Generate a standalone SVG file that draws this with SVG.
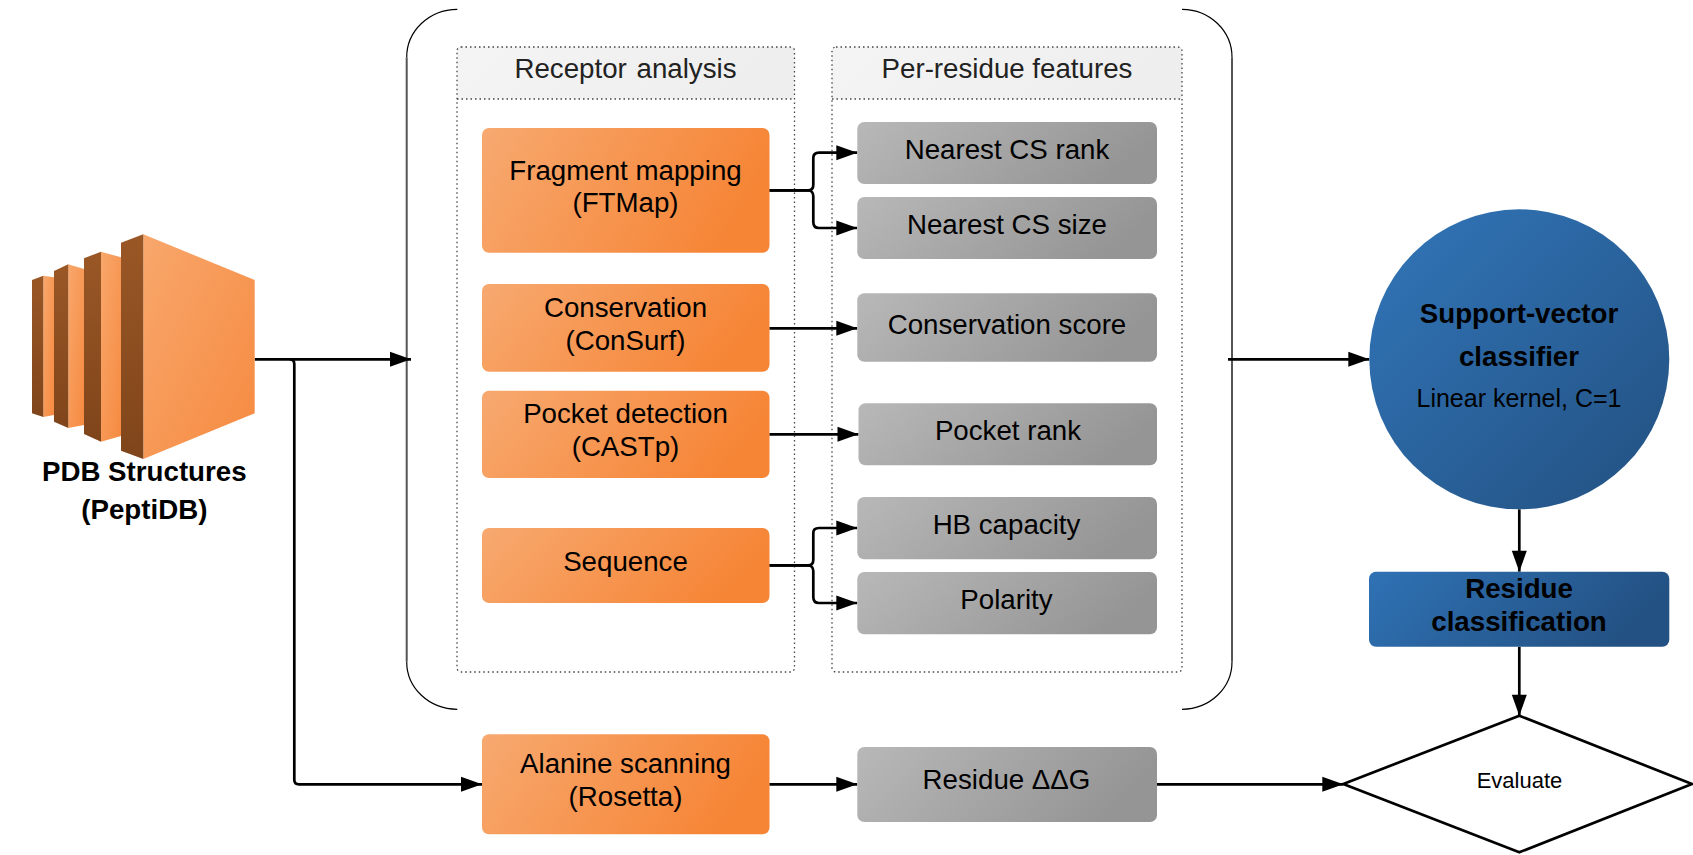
<svg xmlns="http://www.w3.org/2000/svg" width="1693" height="855" viewBox="0 0 1693 855">
<style>
text{font-family:"Liberation Sans",Arial,sans-serif;text-anchor:middle;fill:#000}
.t{font-size:27.7px}
.b{font-size:27.7px;font-weight:bold}
.h{font-size:27.7px;fill:#222}
.c{fill:none;stroke:#000;stroke-width:2.7;stroke-linejoin:round}
.dot{fill:none;stroke:#444;stroke-width:1.3;stroke-dasharray:1.5 3}
</style>
<defs>
<linearGradient id="or" x1="0" y1="0" x2="1" y2="0.25"><stop offset="0" stop-color="#f7a970"/><stop offset="1" stop-color="#f68536"/></linearGradient>
<linearGradient id="orb" x1="0" y1="0" x2="1" y2="1"><stop offset="0" stop-color="#f8a76c"/><stop offset="1" stop-color="#f68a40"/></linearGradient>
<linearGradient id="drk" x1="0" y1="0" x2="0" y2="1"><stop offset="0" stop-color="#9a5726"/><stop offset="1" stop-color="#7f451a"/></linearGradient>
<linearGradient id="gr" x1="0" y1="0" x2="1" y2="0.25"><stop offset="0" stop-color="#b8b8b8"/><stop offset="1" stop-color="#959595"/></linearGradient>
<linearGradient id="bl" x1="0" y1="0" x2="1" y2="0.25"><stop offset="0" stop-color="#2f72b5"/><stop offset="1" stop-color="#235183"/></linearGradient>
<linearGradient id="blc" x1="0.1" y1="0.1" x2="0.9" y2="0.9"><stop offset="0" stop-color="#3072b4"/><stop offset="1" stop-color="#245486"/></linearGradient>
<linearGradient id="hd" x1="0" y1="0" x2="1" y2="0.15"><stop offset="0" stop-color="#f4f4f4"/><stop offset="1" stop-color="#eeeeee"/></linearGradient>
<marker id="a" markerUnits="userSpaceOnUse" markerWidth="24" markerHeight="16" refX="21" refY="7.5" orient="auto" overflow="visible"><path d="M0 0L21 7.5L0 15Z" fill="#000"/></marker>
</defs>

<g id="bracket-group">
<path d="M457.3 9.3C429 9.5 406.7 31 406.7 57.3M406.7 661.7C406.7 688 429 709 457.3 709.3M1182 9.3C1210 9.5 1232 31 1232 57.3M1232 661.7C1232 688 1210 709 1182 709.3" fill="none" stroke="#000" stroke-width="1.2"/>
<path d="M406.7 57.3V661.7M1232 57.3V661.7" fill="none" stroke="#555" stroke-width="2"/>
</g>

<g id="receptor-analysis">
<rect x="457" y="47" width="337.500" height="52" rx="3" fill="url(#hd)"/>
<rect class="dot" x="457" y="47" width="337.500" height="625" rx="4"/>
<path class="dot" d="M457 99H794.500"/>
<text class="h" x="625.500" y="78" word-spacing="2">Receptor analysis</text>
</g>
<g id="per-residue-features">
<rect x="832" y="47" width="350" height="52" rx="3" fill="url(#hd)"/>
<rect class="dot" x="832" y="47" width="350" height="625" rx="4"/>
<path class="dot" d="M832 99H1182"/>
<text class="h" x="1007" y="78">Per-residue features</text>
</g>

<g id="connectors">
<path class="c" d="M254.700 359.300H411" marker-end="url(#a)"/>
<path class="c" d="M290 359.300C293 359.300 294.300 361 294.300 364V780C294.300 783 296 784.300 299 784.300H482" marker-end="url(#a)"/>
<path class="c" d="M1228 359.300H1369.300" marker-end="url(#a)"/>
<path class="c" d="M769.300 190.300H808C811.500 190.300 813.300 188 813.300 185V158C813.300 154.500 815.500 152.700 819 152.700H857.300" marker-end="url(#a)"/>
<path class="c" d="M769.300 190.300H808C811.500 190.300 813.300 193 813.300 196V222C813.300 226 815.500 228 819 228H857.300" marker-end="url(#a)"/>
<path class="c" d="M769.300 328.300H857.300" marker-end="url(#a)"/>
<path class="c" d="M769.300 434.300H858.500" marker-end="url(#a)"/>
<path class="c" d="M769.300 565.300H808C811.500 565.300 813.300 563 813.300 560V533C813.300 529.500 815.500 528 819 528H857.300" marker-end="url(#a)"/>
<path class="c" d="M769.300 565.300H808C811.500 565.300 813.300 568 813.300 571V597C813.300 601 815.500 603 819 603H857.300" marker-end="url(#a)"/>
<path class="c" d="M769.300 784.300H857.300" marker-end="url(#a)"/>
<path class="c" d="M1157 784.300H1343.300" marker-end="url(#a)"/>
<path class="c" d="M1519.300 509.300V571.700" marker-end="url(#a)"/>
<path class="c" d="M1519.300 646.700V715.700" marker-end="url(#a)"/>
</g>

<g id="pdb-structures">
<path d="M43.300 275.700L54 277.300V415L43.300 417Z" fill="url(#orb)"/>
<path d="M32 280L43.300 275.700V417L32 413.300Z" fill="url(#drk)"/>
<path d="M68.300 264.300L84 269V425L68.300 428Z" fill="url(#orb)"/>
<path d="M54 271L68.300 264.300V428L54 421.700Z" fill="url(#drk)"/>
<path d="M101 251.700L121 257.300V436L101 441.700Z" fill="url(#orb)"/>
<path d="M84 258.300L101 251.700V441.700L84 434Z" fill="url(#drk)"/>
<path d="M143.300 234.300L254.700 280V413.300L143.300 459Z" fill="url(#orb)"/>
<path d="M121 242.700L143.300 234.300V459L121 450.700Z" fill="url(#drk)"/>
<text class="b" x="144.300" y="481">PDB Structures</text>
<text class="b" x="144.300" y="519">(PeptiDB)</text>
</g>

<g id="fragment-mapping"><rect x="482" y="128" width="287.500" height="124.700" rx="7" fill="url(#or)"/><text class="t" x="625.500" y="180">Fragment mapping</text><text class="t" x="625.500" y="212.400">(FTMap)</text></g>
<g id="conservation"><rect x="482" y="284" width="287.500" height="87.700" rx="7" fill="url(#or)"/><text class="t" x="625.500" y="317">Conservation</text><text class="t" x="625.500" y="349.500">(ConSurf)</text></g>
<g id="pocket-detection"><rect x="482" y="390.700" width="287.500" height="87.300" rx="7" fill="url(#or)"/><text class="t" x="625.500" y="423">Pocket detection</text><text class="t" x="625.500" y="455.500">(CASTp)</text></g>
<g id="sequence"><rect x="482" y="528" width="287.500" height="75" rx="7" fill="url(#or)"/><text class="t" x="625.500" y="571">Sequence</text></g>
<g id="alanine-scanning"><rect x="482" y="734.300" width="287.500" height="100" rx="7" fill="url(#or)"/><text class="t" x="625.500" y="773">Alanine scanning</text><text class="t" x="625.500" y="805.500">(Rosetta)</text></g>

<g id="nearest-cs-rank"><rect x="857.300" y="122" width="299.700" height="62" rx="7" fill="url(#gr)"/><text class="t" x="1007" y="158.500">Nearest CS rank</text></g>
<g id="nearest-cs-size"><rect x="857.300" y="197" width="299.700" height="62" rx="7" fill="url(#gr)"/><text class="t" x="1007" y="233.500">Nearest CS size</text></g>
<g id="conservation-score"><rect x="857.300" y="293.300" width="299.700" height="68.400" rx="7" fill="url(#gr)"/><text class="t" x="1007" y="334">Conservation score</text></g>
<g id="pocket-rank"><rect x="858.500" y="403.300" width="298.500" height="62" rx="7" fill="url(#gr)"/><text class="t" x="1008" y="439.500">Pocket rank</text></g>
<g id="hb-capacity"><rect x="857.300" y="497" width="299.700" height="62.300" rx="7" fill="url(#gr)"/><text class="t" x="1006.500" y="533.500">HB capacity</text></g>
<g id="polarity"><rect x="857.300" y="572" width="299.700" height="62.300" rx="7" fill="url(#gr)"/><text class="t" x="1006.500" y="608.500">Polarity</text></g>
<g id="residue-ddg"><rect x="857.300" y="747" width="299.700" height="75" rx="7" fill="url(#gr)"/><text class="t" x="1006.500" y="789">Residue ΔΔG</text></g>

<g id="svc"><circle cx="1519.300" cy="359.300" r="150" fill="url(#blc)"/><text class="b" x="1519" y="323">Support-vector</text><text class="b" x="1519" y="365.500">classifier</text><text x="1519" y="407" font-size="25">Linear kernel, C=1</text></g>
<g id="residue-classification"><rect x="1369" y="571.700" width="300.300" height="75" rx="7" fill="url(#bl)"/><text class="b" x="1519" y="598">Residue</text><text class="b" x="1519" y="631">classification</text></g>
<g id="evaluate"><path d="M1519.300 715.700L1692 784L1519.300 852.300L1343.300 784Z" fill="#fff" stroke="#000" stroke-width="2.700" stroke-linejoin="round"/><text x="1519.500" y="788.300" font-size="22">Evaluate</text></g>
</svg>
